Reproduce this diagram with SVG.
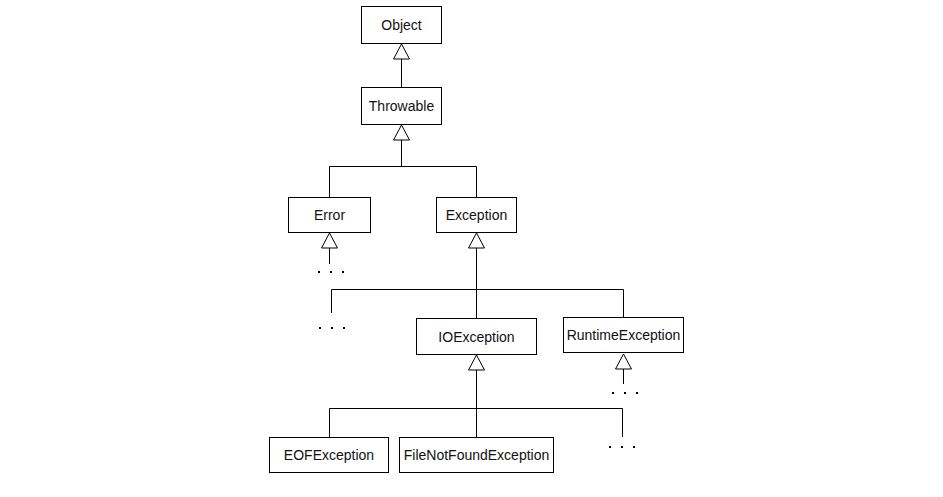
<svg xmlns="http://www.w3.org/2000/svg" width="943" height="497" viewBox="0 0 943 497">
  <style>
    .box { fill: #fff; stroke: #000; stroke-width: 1; }
    .lbl { font-family: "Liberation Sans", Arial, sans-serif; font-size: 14px; fill: #111; text-anchor: middle; dominant-baseline: central; }
    .wire { fill: none; stroke: #000; stroke-width: 1; }
    .dot { fill: #000; }
  </style>
  <defs>
    <!-- hollow inheritance triangle, apex at the origin pointing up -->
    <path id="tri" d="M0,0 L8,15 L-8,15 Z" fill="#fff" stroke="#000" stroke-width="1"/>
    <g id="dots">
      <rect x="-1" y="-1" width="2" height="2" class="dot"/>
      <rect x="11" y="-1" width="2" height="2" class="dot"/>
      <rect x="23" y="-1" width="2" height="2" class="dot"/>
    </g>
  </defs>
  <rect width="943" height="497" fill="#fff"/>

  <g id="connectors">
    <!-- Object <- Throwable -->
    <path class="wire" d="M401.5,59 V87"/>
    <use href="#tri" x="401.5" y="44"/>
    <!-- Throwable <- Error, Exception -->
    <path class="wire" d="M401.5,140 V166.5 M329.5,197 V166.5 H476.5 V197"/>
    <use href="#tri" x="401.5" y="125"/>
    <!-- Error <- ... -->
    <path class="wire" d="M329.5,248 V264"/>
    <use href="#tri" x="329.5" y="233"/>
    <use href="#dots" x="319" y="272"/>
    <!-- Exception <- ..., IOException, RuntimeException -->
    <path class="wire" d="M476.5,248 V318 M331.5,313 V289.5 H623.5 V317"/>
    <use href="#tri" x="476.5" y="233"/>
    <use href="#dots" x="320" y="328"/>
    <!-- RuntimeException <- ... -->
    <path class="wire" d="M623.5,369 V384"/>
    <use href="#tri" x="623.5" y="354"/>
    <use href="#dots" x="613" y="393"/>
    <!-- IOException <- EOFException, FileNotFoundException, ... -->
    <path class="wire" d="M476.5,370 V437 M329.5,437 V408.5 H622.5 V437"/>
    <use href="#tri" x="476.5" y="355"/>
    <use href="#dots" x="610" y="447"/>
  </g>

  <g id="object">
    <rect class="box" x="361.5" y="6.5" width="80" height="37"/>
    <text class="lbl" x="401.5" y="25">Object</text>
  </g>
  <g id="throwable">
    <rect class="box" x="361.5" y="87.5" width="80" height="37"/>
    <text class="lbl" x="401.5" y="106">Throwable</text>
  </g>
  <g id="error">
    <rect class="box" x="288.5" y="197.5" width="82" height="35"/>
    <text class="lbl" x="329.5" y="215">Error</text>
  </g>
  <g id="exception">
    <rect class="box" x="436.5" y="197.5" width="80" height="35"/>
    <text class="lbl" x="476.5" y="215">Exception</text>
  </g>
  <g id="ioexception">
    <rect class="box" x="416.5" y="318.5" width="120" height="36"/>
    <text class="lbl" x="476.5" y="336.5">IOException</text>
  </g>
  <g id="runtimeexception">
    <rect class="box" x="563.5" y="317.5" width="120" height="35"/>
    <text class="lbl" x="623.5" y="335">RuntimeException</text>
  </g>
  <g id="eofexception">
    <rect class="box" x="269.5" y="437.5" width="119" height="35"/>
    <text class="lbl" x="329" y="455">EOFException</text>
  </g>
  <g id="filenotfoundexception">
    <rect class="box" x="399.5" y="437.5" width="154" height="35"/>
    <text class="lbl" x="476.5" y="455">FileNotFoundException</text>
  </g>
</svg>
